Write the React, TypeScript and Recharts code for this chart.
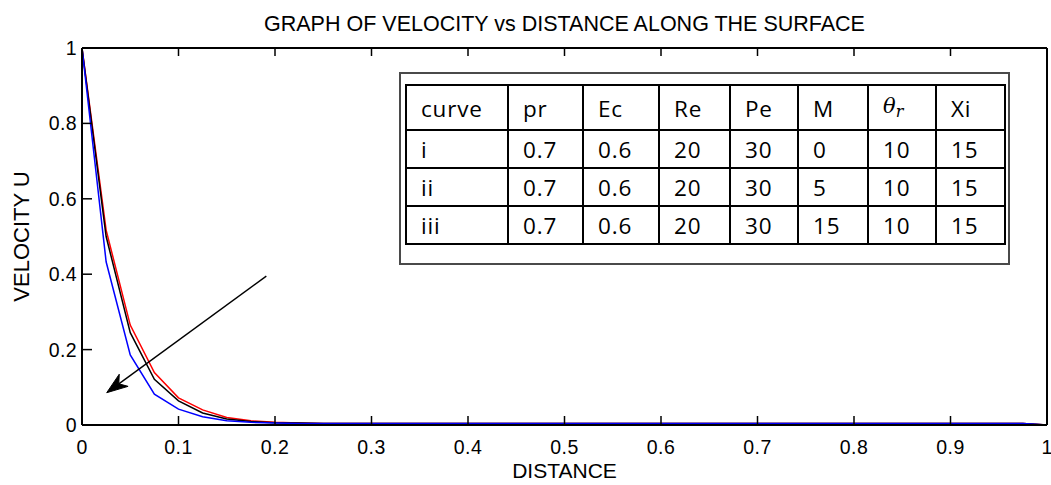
import React from 'react';
import { LineChart, Line, XAxis, YAxis, ReferenceLine } from 'recharts';

const distance = [0, 0.025, 0.05, 0.075, 0.1, 0.125, 0.15, 0.175, 0.2, 0.225, 0.25, 0.275, 0.3, 0.325, 0.35, 0.375, 0.4, 0.425, 0.45, 0.475, 0.5, 0.525, 0.55, 0.575, 0.6, 0.625, 0.65, 0.675, 0.7, 0.725, 0.75, 0.775, 0.8, 0.825, 0.85, 0.875, 0.9, 0.925, 0.95, 0.975, 1];
const velocityI = [1, 0.517, 0.265, 0.139, 0.072, 0.04, 0.02, 0.011, 0.007, 0.005, 0.004, 0.004, 0.004, 0.004, 0.004, 0.004, 0.004, 0.004, 0.004, 0.004, 0.004, 0.004, 0.004, 0.004, 0.004, 0.004, 0.004, 0.004, 0.004, 0.004, 0.004, 0.004, 0.004, 0.004, 0.004, 0.004, 0.004, 0.004, 0.004, 0.004, 0];
const velocityII = [1, 0.5, 0.245, 0.121, 0.064, 0.032, 0.016, 0.009, 0.006, 0.005, 0.004, 0.004, 0.004, 0.004, 0.004, 0.004, 0.004, 0.004, 0.004, 0.004, 0.004, 0.004, 0.004, 0.004, 0.004, 0.004, 0.004, 0.004, 0.004, 0.004, 0.004, 0.004, 0.004, 0.004, 0.004, 0.004, 0.004, 0.004, 0.004, 0.004, 0];
const velocityIII = [1, 0.433, 0.186, 0.082, 0.042, 0.022, 0.011, 0.007, 0.005, 0.004, 0.004, 0.004, 0.004, 0.004, 0.004, 0.004, 0.004, 0.004, 0.004, 0.004, 0.004, 0.004, 0.004, 0.004, 0.004, 0.004, 0.004, 0.004, 0.004, 0.004, 0.004, 0.004, 0.004, 0.004, 0.004, 0.004, 0.004, 0.004, 0.004, 0.004, 0];

const xTicks = [0, 0.1, 0.2, 0.3, 0.4, 0.5, 0.6, 0.7, 0.8, 0.9, 1];
const yTicks = [0, 0.2, 0.4, 0.6, 0.8, 1];

const arrowStart = { x: 0.191, y: 0.395 };
const arrowTip = { x: 0.0256, y: 0.0857 };

const curveNames = ['i', 'ii', 'iii'];
const prValues = ['0.7', '0.7', '0.7'];
const ecValues = ['0.6', '0.6', '0.6'];
const reValues = ['20', '20', '20'];
const peValues = ['30', '30', '30'];
const mValues = ['0', '5', '15'];
const thetaValues = ['10', '10', '10'];
const xiValues = ['15', '15', '15'];
const colWidths = [102, 75, 76, 71, 68, 70, 68, 69];

const data = distance.map((d, i) => ({
  d,
  u1: velocityI[i],
  u2: velocityII[i],
  u3: velocityIII[i],
}));

const AXIS_FONT = "'Liberation Sans', Arial, Helvetica, sans-serif";
const TICK_SIZE = 19.5;

const XTick = (props: any) => {
  const { x, y, payload } = props;
  return (
    <text x={x} y={y} dy="0.71em" textAnchor="middle" fill="#000" fontSize={TICK_SIZE} fontFamily={AXIS_FONT} letterSpacing={0.4}>
      {String(payload.value)}
    </text>
  );
};

const YTick = (props: any) => {
  const { x, y, payload } = props;
  return (
    <text x={x} y={y} dy="0.36em" textAnchor="end" fill="#000" fontSize={TICK_SIZE} fontFamily={AXIS_FONT} letterSpacing={0.4}>
      {String(payload.value)}
    </text>
  );
};

const NoTick = () => <g />;

const ArrowShape = (props: any) => {
  const { x1, y1, x2, y2 } = props;
  const dx = x2 - x1;
  const dy = y2 - y1;
  const len = Math.hypot(dx, dy) || 1;
  const ux = dx / len;
  const uy = dy / len;
  const px = -uy;
  const py = ux;
  const L = 21;
  const W = 7.5;
  const N = 6;
  const bx = x2 - ux * L;
  const by = y2 - uy * L;
  const nx = x2 - ux * (L - N);
  const ny = y2 - uy * (L - N);
  const pts = `${x2},${y2} ${bx + px * W},${by + py * W} ${nx},${ny} ${bx - px * W},${by - py * W}`;
  return (
    <g>
      <line x1={x1} y1={y1} x2={nx} y2={ny} stroke="#000" strokeWidth={1.4} />
      <polygon points={pts} fill="#000" stroke="#000" strokeWidth={1} />
    </g>
  );
};

const cellStyle: React.CSSProperties = {
  border: '2px solid #000',
  paddingLeft: 14,
  paddingTop: 2,
  height: 37.25,
  boxSizing: 'border-box',
  lineHeight: '33px',
  textAlign: 'left',
  fontWeight: 'normal',
  whiteSpace: 'nowrap',
  overflow: 'hidden',
};

function ParamTable() {
  const header = ['curve', 'pr', 'Ec', 'Re', 'Pe', 'M', 'THETA', 'Xi'];
  const rows = curveNames.map((c, i) => [c, prValues[i], ecValues[i], reValues[i], peValues[i], mValues[i], thetaValues[i], xiValues[i]]);
  return (
    <div
      style={{
        position: 'absolute',
        left: 399,
        top: 72,
        width: 611,
        height: 193,
        border: '2px solid #4a4a4a',
        boxSizing: 'border-box',
        background: '#fff',
      }}
    >
      <table
        style={{
          position: 'absolute',
          left: 4,
          top: 10,
          borderCollapse: 'collapse',
          tableLayout: 'fixed',
          width: 599,
          fontFamily: "'Open Sans', 'Noto Sans', sans-serif",
          fontSize: 22.5,
          letterSpacing: 0.8,
          color: '#000',
        }}
      >
        <colgroup>
          {colWidths.map((w, i) => (
            <col key={i} style={{ width: w }} />
          ))}
        </colgroup>
        <tbody>
          <tr>
            {header.map((h, i) => (
              <td key={i} style={cellStyle}>
                {h === 'THETA' ? (
                  <span style={{ fontFamily: "'DejaVu Serif', serif", fontStyle: 'italic', fontSize: 21, letterSpacing: 0 }}>
                    θ<sub style={{ fontSize: 16, verticalAlign: '-4px' }}>r</sub>
                  </span>
                ) : (
                  h
                )}
              </td>
            ))}
          </tr>
          {rows.map((r, ri) => (
            <tr key={ri}>
              {r.map((v, ci) => (
                <td key={ci} style={cellStyle}>
                  {v}
                </td>
              ))}
            </tr>
          ))}
        </tbody>
      </table>
    </div>
  );
}

export default function App() {
  const labelStyle = (size: number) => ({ fontSize: `${size}px`, fontFamily: AXIS_FONT, fill: '#000' });
  const axisLine = { stroke: '#000', strokeWidth: 2 };
  const tickLine = { stroke: '#000', strokeWidth: 1.5 };
  return (
    <div style={{ position: 'absolute', left: 0, top: 0, width: 1051, height: 485, background: '#fff' }}>
      <LineChart
        width={1051}
        height={485}
        data={data}
        margin={{ top: 8, right: 0, bottom: 0, left: 0 }}
      >
        <XAxis
          dataKey="d"
          type="number"
          domain={[0, 1]}
          ticks={xTicks}
          interval={0}
          height={60}
          tickSize={-9}
          tickMargin={24}
          axisLine={axisLine}
          tickLine={tickLine}
          tick={XTick}
          label={{ value: 'DISTANCE', position: 'insideBottom', offset: 7, style: labelStyle(21) }}
        />
        <XAxis
          xAxisId="top"
          dataKey="d"
          type="number"
          domain={[0, 1]}
          ticks={xTicks}
          interval={0}
          orientation="top"
          height={40}
          tickSize={-8}
          tick={NoTick}
          axisLine={axisLine}
          tickLine={tickLine}
          label={{ value: 'GRAPH OF VELOCITY vs DISTANCE ALONG THE SURFACE', position: 'insideTop', offset: 8, style: labelStyle(21.5) }}
        />
        <YAxis
          type="number"
          domain={[0, 1]}
          ticks={yTicks}
          interval={0}
          width={82}
          tickSize={-10}
          tickMargin={15}
          axisLine={axisLine}
          tickLine={tickLine}
          tick={YTick}
          label={{ value: 'VELOCITY U', angle: -90, position: 'center', dx: -20, style: { ...labelStyle(22), textAnchor: 'middle' } }}
        />
        <YAxis
          yAxisId="right"
          orientation="right"
          type="number"
          domain={[0, 1]}
          ticks={yTicks}
          interval={0}
          width={4}
          tickSize={-9}
          tick={NoTick}
          axisLine={axisLine}
          tickLine={tickLine}
        />
        <Line type="linear" dataKey="u1" stroke="#ff0000" strokeWidth={1.5} dot={false} isAnimationActive={false} />
        <Line type="linear" dataKey="u2" stroke="#000000" strokeWidth={1.5} dot={false} isAnimationActive={false} />
        <Line type="linear" dataKey="u3" stroke="#0000ff" strokeWidth={1.5} dot={false} isAnimationActive={false} />
        <ReferenceLine segment={[arrowStart, arrowTip]} ifOverflow="visible" shape={ArrowShape} />
      </LineChart>
      <ParamTable />
    </div>
  );
}
